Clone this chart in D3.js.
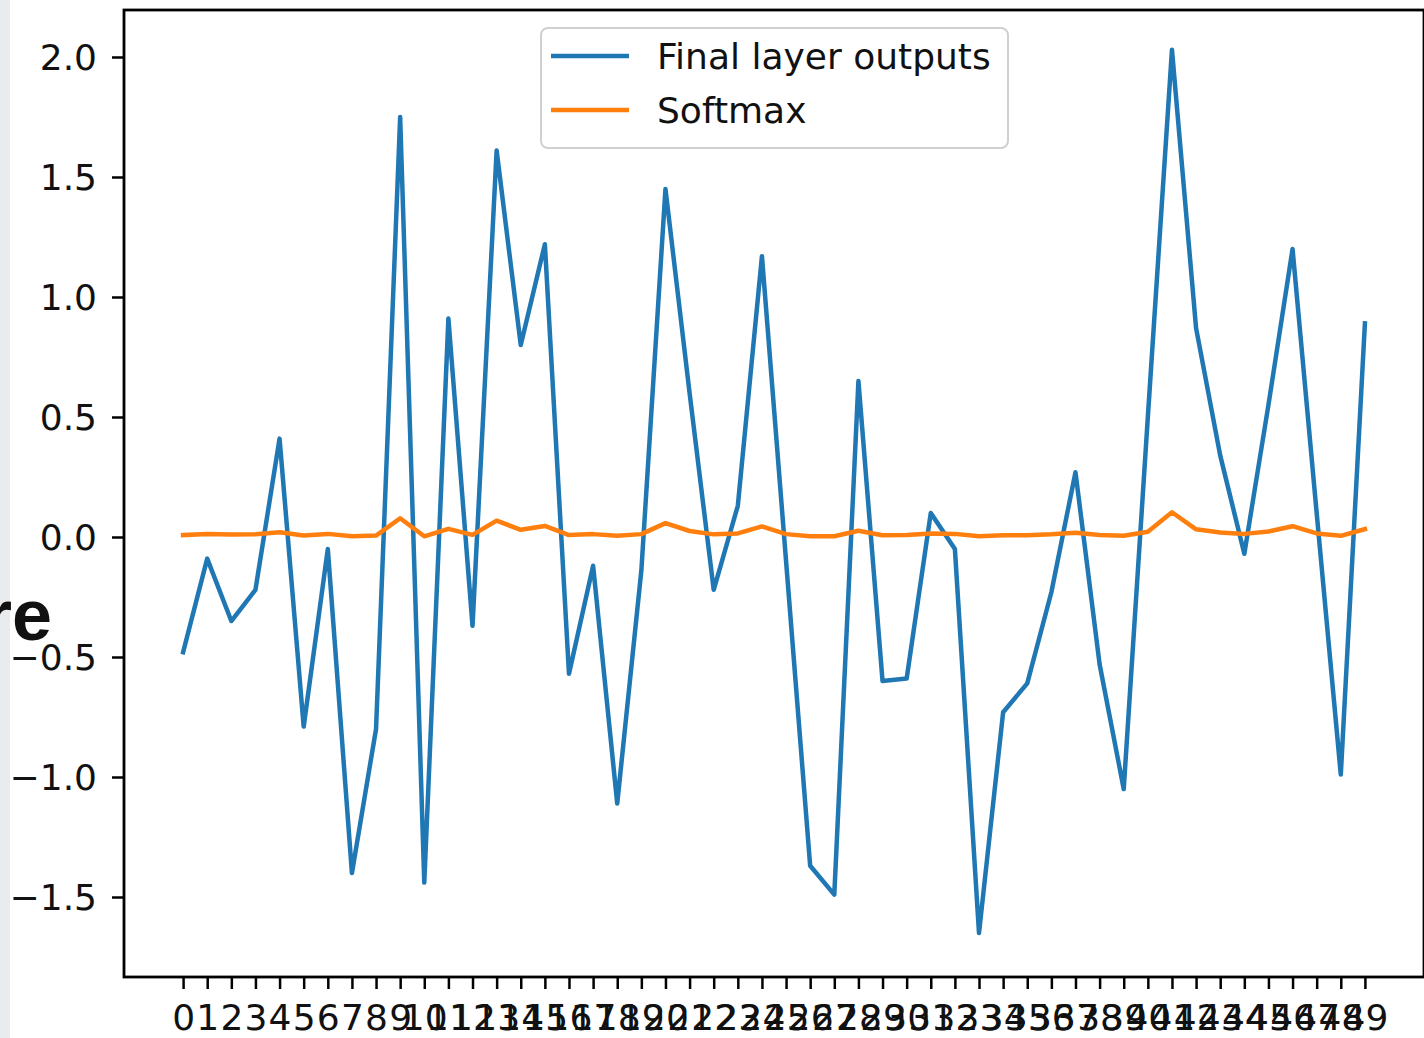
<!DOCTYPE html>
<html>
<head>
<meta charset="utf-8">
<script src="https://cdn.jsdelivr.net/npm/d3@7"></script>
<style>
body { margin: 0; background: #ffffff; }
svg { display: block; }
</style>
</head>
<body>
<svg width="1424" height="1038"></svg>
<script>

var finalOutputs = [-0.48, -0.09, -0.35, -0.22, 0.41, -0.79, -0.05, -1.40, -0.80, 1.75,
	-1.44, 0.91, -0.37, 1.61, 0.80, 1.22, -0.57, -0.12, -1.11, -0.14,
	1.45, 0.60, -0.22, 0.13, 1.17, -0.10, -1.37, -1.49, 0.65, -0.60,
	-0.59, 0.10, -0.05, -1.65, -0.73, -0.61, -0.23, 0.27, -0.53, -1.05,
	0.50, 2.03, 0.87, 0.34, -0.07, 0.55, 1.20, 0.10, -0.99, 0.89];

var softmaxValues = [0.008, 0.012, 0.010, 0.011, 0.020, 0.006, 0.013, 0.003, 0.006, 0.078,
	0.003, 0.034, 0.009, 0.068, 0.030, 0.046, 0.008, 0.012, 0.005, 0.012,
	0.058, 0.025, 0.011, 0.015, 0.044, 0.012, 0.003, 0.003, 0.026, 0.007,
	0.008, 0.015, 0.013, 0.003, 0.007, 0.007, 0.011, 0.018, 0.008, 0.005,
	0.022, 0.103, 0.032, 0.019, 0.013, 0.023, 0.045, 0.015, 0.005, 0.033];

var seriesNames = ["Final layer outputs", "Softmax"];
var seriesColors = ["#1f77b4", "#ff7f0e"];
var yTicks = [-1.5, -1.0, -0.5, 0.0, 0.5, 1.0, 1.5, 2.0];

function main() {

	var svg = d3.select("svg");
	var left = 124, right = 1424, top = 10, bottom = 977;
	var font = "'DejaVu Sans', sans-serif";

	// grey strip and clipped title from the page behind
	svg.append("rect").attr("x", 0).attr("y", 0).attr("width", 10).attr("height", 1038).attr("fill", "#e8ecee");

	var n = finalOutputs.length;
	var xScale = d3.scaleLinear().domain([-0.05 * (n - 1), (n - 1) * 1.05]).range([left, right]);
	var yScale = d3.scaleLinear().domain([-1.8333, 2.1958]).range([bottom, top]);

	var g = svg.append("g");

	var xAxis = d3.axisBottom(xScale).tickValues(d3.range(n)).tickFormat(function(d){ return d; })
		.tickSize(12).tickPadding(12);
	var gx = g.append("g").attr("transform", "translate(0," + bottom + ")").call(xAxis);
	gx.select(".domain").remove();
	gx.selectAll("line").attr("stroke", "#000").attr("stroke-width", 2.5);
	gx.selectAll("text").attr("font-family", font).attr("font-size", "36px").attr("fill", "#111")
		.attr("y", 24).attr("dy", "0.8em");

	var yAxis = d3.axisLeft(yScale).tickValues(yTicks).tickFormat(function(d){
		return d3.format(".1f")(d).replace("-", "\u2212");
	}).tickSize(12).tickPadding(12);
	var gy = g.append("g").attr("transform", "translate(" + left + ",0)").call(yAxis);
	gy.select(".domain").remove();
	gy.selectAll("line").attr("stroke", "#000").attr("stroke-width", 2.5);
	gy.selectAll("text").attr("font-family", font).attr("font-size", "36px").attr("fill", "#111")
		.attr("x", -27).attr("dy", "0.36em");

	var line = d3.line()
		.x(function(d, i){ return xScale(i); })
		.y(function(d){ return yScale(d); });

	var allSeries = [finalOutputs, softmaxValues];
	allSeries.forEach(function(s, k){
		g.append("path").datum(s)
			.attr("d", line)
			.attr("fill", "none")
			.attr("stroke", seriesColors[k])
			.attr("stroke-width", 4.5)
			.attr("stroke-linejoin", "round")
			.attr("stroke-linecap", "square");
	});

	// frame
	g.append("rect").attr("x", left).attr("y", top).attr("width", right - left).attr("height", bottom - top)
		.attr("fill", "none").attr("stroke", "#000").attr("stroke-width", 2.8);

	// legend
	var lg = svg.append("g").attr("transform", "translate(541,28)");
	lg.append("rect").attr("width", 467).attr("height", 120).attr("rx", 7)
		.attr("fill", "#fff").attr("fill-opacity", 0.8).attr("stroke", "#d0d0d0").attr("stroke-width", 2);
	seriesNames.forEach(function(name, k){
		var yy = 28 + k * 54;
		lg.append("line").attr("x1", 10).attr("x2", 88).attr("y1", yy).attr("y2", yy)
			.attr("stroke", seriesColors[k]).attr("stroke-width", 4.5);
		lg.append("text").attr("x", 116).attr("y", yy + 13).attr("font-family", font).attr("font-size", "36px")
			.attr("fill", "#111").text(name);
	});

	svg.append("text").attr("x", 52).attr("y", 640).attr("text-anchor", "end")
		.attr("font-family", "'Liberation Sans', Arial, sans-serif").attr("font-weight", "bold")
		.attr("font-size", "72px").attr("fill", "#111").text("re");
}

main();
</script>
</body>
</html>
